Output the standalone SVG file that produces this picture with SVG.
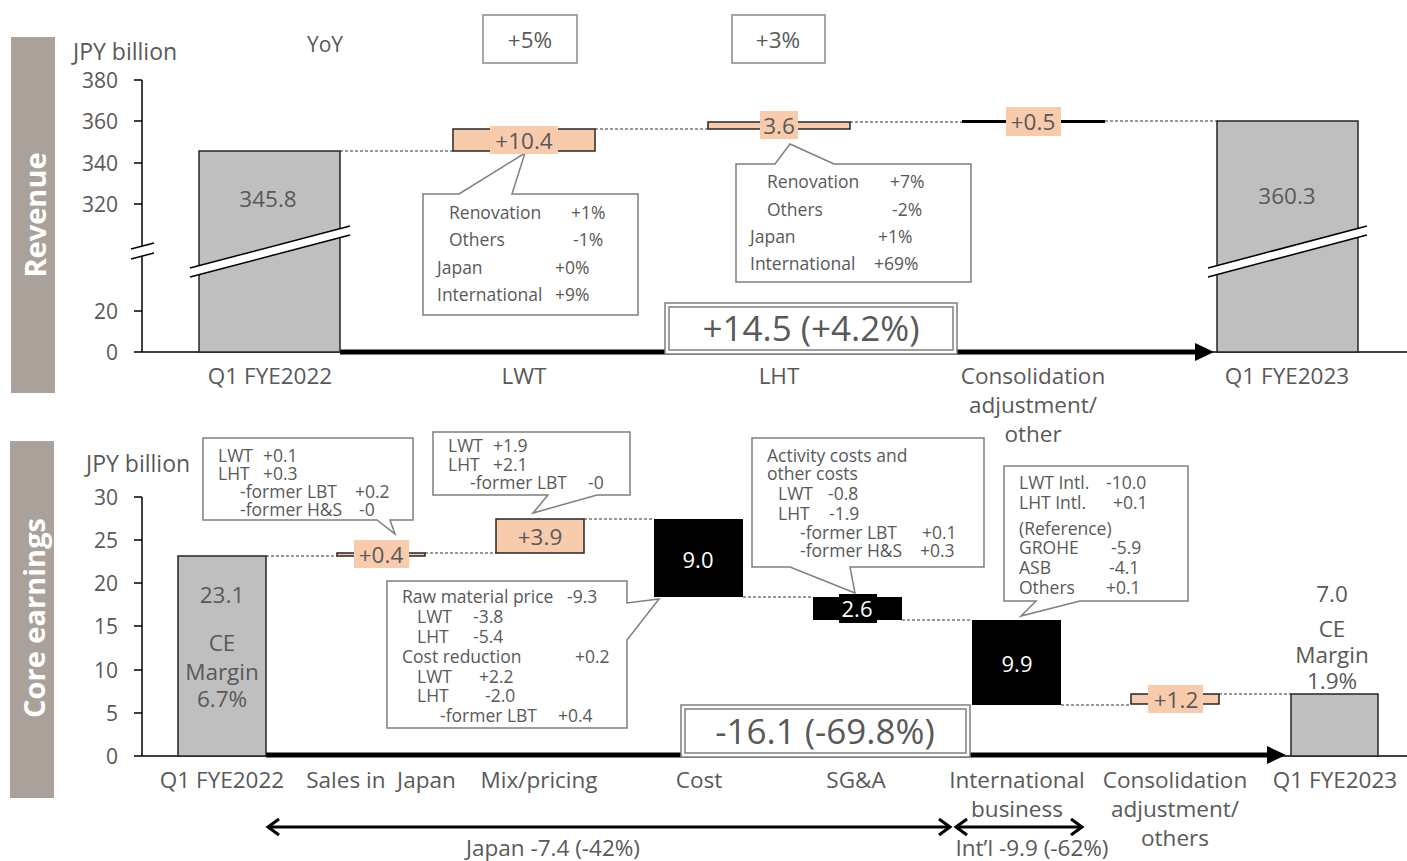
<svg xmlns="http://www.w3.org/2000/svg" width="1407" height="861" viewBox="0 0 1407 861">
<style>
text{font-family:"Open Sans","Noto Sans","Liberation Sans",sans-serif;fill:#595959;dominant-baseline:central}
.ax{font-size:21px;text-anchor:end}
.cat{font-size:22.5px;text-anchor:middle}
.val{font-size:22.5px;text-anchor:middle}
.wv{font-size:22px;text-anchor:middle;fill:#fff}
.co{font-size:17.5px}
.side{font-size:29px;font-weight:bold;fill:#fff;text-anchor:middle}
.big{font-size:35px;text-anchor:middle}
.gbar{fill:#bfbfbf;stroke:#262626;stroke-width:1.5}
.pbar{fill:#f8cbad;stroke:#262626;stroke-width:1.5}
.kbar{fill:#000}
.plab{fill:#f8cbad}
.call{fill:#fff;stroke:#7f7f7f;stroke-width:1.5}
.dash{stroke:#333;stroke-width:1;stroke-dasharray:3 2;fill:none}
.axis{stroke:#000;stroke-width:1.5;fill:none}
.dbl{fill:#fff;stroke:#7f7f7f;stroke-width:1.5}
.yoy{fill:#fff;stroke:#a6a6a6;stroke-width:2}
</style>

<!-- ===== TOP: Revenue ===== -->
<g id="revenue-band">
<rect x="11" y="37" width="44" height="356" fill="#a9a19a"/>
<text class="side" transform="translate(34,215) rotate(-90)">Revenue</text>
</g>
<g id="revenue-axis">
<line class="axis" x1="142" y1="80" x2="142" y2="246"/>
<line class="axis" x1="142" y1="256" x2="142" y2="352"/>
<line class="axis" x1="134" y1="80" x2="142" y2="80"/>
<line class="axis" x1="134" y1="121" x2="142" y2="121"/>
<line class="axis" x1="134" y1="163" x2="142" y2="163"/>
<line class="axis" x1="134" y1="204" x2="142" y2="204"/>
<line class="axis" x1="134" y1="311" x2="142" y2="311"/>
<line class="axis" x1="134" y1="352" x2="1407" y2="352"/>
<line class="axis" x1="131" y1="249" x2="154" y2="243"/>
<line class="axis" x1="131" y1="259" x2="154" y2="253"/>
<text class="ax" x="118" y="80">380</text>
<text class="ax" x="118" y="121">360</text>
<text class="ax" x="118" y="163">340</text>
<text class="ax" x="118" y="204">320</text>
<text class="ax" x="118" y="311">20</text>
<text class="ax" x="118" y="352">0</text>
<text x="73" y="51" style="font-size:23px">JPY billion</text>
<text x="325" y="44" style="font-size:21px;text-anchor:middle">YoY</text>
</g>
<g id="yoy-lwt">
<rect class="yoy" x="483" y="15" width="94" height="48"/>
<text class="val" x="530" y="39">+5%</text>
</g>
<g id="yoy-lht">
<rect class="yoy" x="732" y="15" width="93" height="48"/>
<text class="val" x="778" y="39">+3%</text>
</g>

<g id="rev-callout-lwt">
<path class="call" d="M423,194 H459 L525,153 L512,194 H638 V315 H423 Z"/>
<text class="co" x="449" y="212">Renovation</text><text class="co" x="571" y="212">+1%</text>
<text class="co" x="449" y="239">Others</text><text class="co" x="573" y="239">-1%</text>
<text class="co" x="437" y="267">Japan</text><text class="co" x="555" y="267">+0%</text>
<text class="co" x="437" y="294">International</text><text class="co" x="555" y="294">+9%</text>
</g>
<g id="rev-callout-lht">
<path class="call" d="M736,164 H775 L790,144 L834,164 H971 V282 H736 Z"/>
<text class="co" x="767" y="181">Renovation</text><text class="co" x="890" y="181">+7%</text>
<text class="co" x="767" y="209">Others</text><text class="co" x="892" y="209">-2%</text>
<text class="co" x="750" y="236">Japan</text><text class="co" x="878" y="236">+1%</text>
<text class="co" x="750" y="263">International</text><text class="co" x="874" y="263">+69%</text>
</g>

<g id="rev-connectors">
<line class="dash" x1="340" y1="151" x2="453" y2="151"/>
<line class="dash" x1="595" y1="129" x2="708" y2="129"/>
<line class="dash" x1="850" y1="122" x2="962" y2="122"/>
<line class="dash" x1="1105" y1="121" x2="1217" y2="121"/>
<line x1="340" y1="352" x2="1198" y2="352" stroke="#000" stroke-width="5"/>
<polygon points="1195,343 1214,352 1195,361" fill="#000"/>
</g>

<g id="rev-q1-2022">
<rect class="gbar" x="199" y="151" width="141" height="201"/>
<polygon points="190,268 350,226 350,235 190,277" fill="#fff"/>
<line x1="190" y1="268" x2="350" y2="226" stroke="#000" stroke-width="1.5"/>
<line x1="190" y1="277" x2="350" y2="235" stroke="#000" stroke-width="1.5"/>
<text class="val" x="268" y="198">345.8</text>
<text class="cat" x="270" y="375">Q1 FYE2022</text>
</g>
<g id="rev-lwt">
<rect class="pbar" x="453" y="129" width="142" height="22"/>
<rect class="plab" x="490" y="126" width="68" height="28"/>
<text class="val" x="524" y="140">+10.4</text>
<text class="cat" x="524" y="375">LWT</text>
</g>
<g id="rev-lht">
<rect class="pbar" x="708" y="122" width="142" height="7"/>
<rect class="plab" x="760" y="111" width="38" height="28"/>
<text class="val" x="779" y="125">3.6</text>
<text class="cat" x="779" y="375">LHT</text>
</g>
<g id="rev-consolidation">
<line x1="962" y1="121.5" x2="1105" y2="121.5" stroke="#000" stroke-width="3"/>
<rect class="plab" x="1006" y="107" width="55" height="29"/>
<text class="val" x="1033" y="121">+0.5</text>
<text class="cat" x="1033" y="375">Consolidation</text>
<text class="cat" x="1033" y="404">adjustment/</text>
<text class="cat" x="1033" y="433">other</text>
</g>
<g id="rev-q1-2023">
<rect class="gbar" x="1217" y="121" width="141" height="231"/>
<polygon points="1208,268 1367,226 1367,235 1208,277" fill="#fff"/>
<line x1="1208" y1="268" x2="1367" y2="226" stroke="#000" stroke-width="1.5"/>
<line x1="1208" y1="277" x2="1367" y2="235" stroke="#000" stroke-width="1.5"/>
<text class="val" x="1287" y="195">360.3</text>
<text class="cat" x="1287" y="375">Q1 FYE2023</text>
</g>
<g id="rev-total">
<rect class="dbl" x="665" y="303" width="292" height="51"/>
<rect class="dbl" x="669" y="307" width="284" height="43"/>
<text class="big" x="811" y="327">+14.5 (+4.2%)</text>
</g>

<!-- ===== BOTTOM: Core earnings ===== -->
<g id="ce-band">
<rect x="10" y="441" width="44" height="357" fill="#a9a19a"/>
<text class="side" transform="translate(33,618) rotate(-90)">Core earnings</text>
</g>
<g id="ce-axis">
<line class="axis" x1="142" y1="497" x2="142" y2="756"/>
<line class="axis" x1="134" y1="497" x2="142" y2="497"/>
<line class="axis" x1="134" y1="540" x2="142" y2="540"/>
<line class="axis" x1="134" y1="583" x2="142" y2="583"/>
<line class="axis" x1="134" y1="626" x2="142" y2="626"/>
<line class="axis" x1="134" y1="670" x2="142" y2="670"/>
<line class="axis" x1="134" y1="713" x2="142" y2="713"/>
<line class="axis" x1="134" y1="756" x2="1407" y2="756"/>
<text class="ax" x="118" y="497">30</text>
<text class="ax" x="118" y="540">25</text>
<text class="ax" x="118" y="583">20</text>
<text class="ax" x="118" y="626">15</text>
<text class="ax" x="118" y="670">10</text>
<text class="ax" x="118" y="713">5</text>
<text class="ax" x="118" y="756">0</text>
<text x="86" y="463" style="font-size:23px">JPY billion</text>
</g>

<g id="ce-callout-sales">
<path class="call" d="M203,438 H413 V520 H390 L395,534 L377,520 H203 Z"/>
<text class="co" x="218" y="455">LWT</text><text class="co" x="263" y="455">+0.1</text>
<text class="co" x="218" y="473">LHT</text><text class="co" x="263" y="473">+0.3</text>
<text class="co" x="240" y="491">-former LBT</text><text class="co" x="355" y="491">+0.2</text>
<text class="co" x="240" y="509">-former H&amp;S</text><text class="co" x="359" y="509">-0</text>
</g>
<g id="ce-callout-mix">
<path class="call" d="M433,432 H630 V495 H597 L533,513 L548,495 H433 Z"/>
<text class="co" x="448" y="445">LWT</text><text class="co" x="493" y="445">+1.9</text>
<text class="co" x="448" y="464">LHT</text><text class="co" x="493" y="464">+2.1</text>
<text class="co" x="470" y="482">-former LBT</text><text class="co" x="588" y="482">-0</text>
</g>
<g id="ce-callout-cost">
<path class="call" d="M387,581 H627 V603 L659,599 L627,640 V728 H387 Z"/>
<text class="co" x="402" y="596">Raw material price</text><text class="co" x="567" y="596">-9.3</text>
<text class="co" x="417" y="616">LWT</text><text class="co" x="473" y="616">-3.8</text>
<text class="co" x="417" y="636">LHT</text><text class="co" x="473" y="636">-5.4</text>
<text class="co" x="402" y="656">Cost reduction</text><text class="co" x="575" y="656">+0.2</text>
<text class="co" x="417" y="676">LWT</text><text class="co" x="479" y="676">+2.2</text>
<text class="co" x="417" y="695">LHT</text><text class="co" x="485" y="695">-2.0</text>
<text class="co" x="440" y="715">-former LBT</text><text class="co" x="558" y="715">+0.4</text>
</g>
<g id="ce-callout-sga">
<path class="call" d="M752,438 H984 V567 H850 L855,593 L790,567 H752 Z"/>
<text class="co" x="767" y="455">Activity costs and</text>
<text class="co" x="767" y="473">other costs</text>
<text class="co" x="778" y="493">LWT</text><text class="co" x="828" y="493">-0.8</text>
<text class="co" x="778" y="513">LHT</text><text class="co" x="829" y="513">-1.9</text>
<text class="co" x="800" y="532">-former LBT</text><text class="co" x="922" y="532">+0.1</text>
<text class="co" x="800" y="550">-former H&amp;S</text><text class="co" x="920" y="550">+0.3</text>
</g>
<g id="ce-callout-intl">
<path class="call" d="M1004,466 H1188 V601 H1080 L1021,616 L1036,601 H1004 Z"/>
<text class="co" x="1019" y="482">LWT Intl.</text><text class="co" x="1106" y="482">-10.0</text>
<text class="co" x="1019" y="502">LHT Intl.</text><text class="co" x="1113" y="502">+0.1</text>
<text class="co" x="1019" y="528">(Reference)</text>
<text class="co" x="1019" y="547">GROHE</text><text class="co" x="1111" y="547">-5.9</text>
<text class="co" x="1019" y="567">ASB</text><text class="co" x="1109" y="567">-4.1</text>
<text class="co" x="1019" y="587">Others</text><text class="co" x="1106" y="587">+0.1</text>
</g>

<g id="ce-connectors">
<line class="dash" x1="266" y1="556" x2="337" y2="556"/>
<line class="dash" x1="425" y1="553" x2="496" y2="553"/>
<line class="dash" x1="584" y1="519" x2="654" y2="519"/>
<line class="dash" x1="743" y1="597" x2="813" y2="597"/>
<line class="dash" x1="902" y1="620" x2="972" y2="620"/>
<line class="dash" x1="1061" y1="705" x2="1131" y2="705"/>
<line class="dash" x1="1219" y1="694" x2="1291" y2="694"/>
<line x1="266" y1="755" x2="1270" y2="755" stroke="#000" stroke-width="5"/>
<polygon points="1267,746 1286,755 1267,764" fill="#000"/>
<line x1="269" y1="827" x2="949" y2="827" stroke="#000" stroke-width="3"/>
<polyline points="279,819 268,827 279,835" fill="none" stroke="#000" stroke-width="3"/>
<polyline points="939,819 950,827 939,835" fill="none" stroke="#000" stroke-width="3"/>
<line x1="957" y1="827" x2="1081" y2="827" stroke="#000" stroke-width="3"/>
<polyline points="967,819 956,827 967,835" fill="none" stroke="#000" stroke-width="3"/>
<polyline points="1071,819 1082,827 1071,835" fill="none" stroke="#000" stroke-width="3"/>
<text class="cat" x="553" y="847">Japan -7.4 (-42%)</text>
<text class="cat" x="1032" y="847">Int’l -9.9 (-62%)</text>
</g>

<g id="ce-q1-2022">
<rect class="gbar" x="178" y="556" width="88" height="200"/>
<text class="val" x="222" y="594">23.1</text>
<text class="val" x="222" y="642">CE</text>
<text class="val" x="222" y="671">Margin</text>
<text class="val" x="222" y="698">6.7%</text>
<text class="cat" x="222" y="779">Q1 FYE2022</text>
</g>
<g id="ce-sales-japan">
<rect class="pbar" x="337" y="553" width="88" height="3"/>
<rect class="plab" x="354" y="540" width="55" height="28"/>
<text class="val" x="381" y="554">+0.4</text>
<text class="cat" x="381" y="779" xml:space="preserve">Sales in  Japan</text>
</g>
<g id="ce-mix">
<rect class="pbar" x="496" y="519" width="88" height="34"/>
<text class="val" x="540" y="536">+3.9</text>
<text class="cat" x="539" y="779">Mix/pricing</text>
</g>
<g id="ce-cost">
<rect class="kbar" x="654" y="519" width="89" height="78"/>
<text class="wv" x="698" y="559">9.0</text>
<text class="cat" x="699" y="779">Cost</text>
</g>
<g id="ce-sga">
<rect class="kbar" x="813" y="597" width="89" height="23"/>
<rect class="kbar" x="839" y="594" width="38" height="29"/>
<text class="wv" x="857" y="608">2.6</text>
<text class="cat" x="856" y="779">SG&amp;A</text>
</g>
<g id="ce-intl">
<rect class="kbar" x="972" y="620" width="89" height="85"/>
<text class="wv" x="1017" y="663">9.9</text>
<text class="cat" x="1017" y="779">International</text>
<text class="cat" x="1017" y="808">business</text>
</g>
<g id="ce-consolidation">
<rect class="pbar" x="1131" y="694" width="88" height="10"/>
<rect class="plab" x="1148" y="685" width="55" height="28"/>
<text class="val" x="1176" y="699">+1.2</text>
<text class="cat" x="1175" y="779">Consolidation</text>
<text class="cat" x="1175" y="808">adjustment/</text>
<text class="cat" x="1175" y="837">others</text>
</g>
<g id="ce-q1-2023">
<rect class="gbar" x="1291" y="694" width="87" height="62"/>
<text class="val" x="1332" y="593">7.0</text>
<text class="val" x="1332" y="628">CE</text>
<text class="val" x="1332" y="654">Margin</text>
<text class="val" x="1332" y="680">1.9%</text>
<text class="cat" x="1335" y="779">Q1 FYE2023</text>
</g>
<g id="ce-total">
<rect class="dbl" x="681" y="705" width="289" height="52"/>
<rect class="dbl" x="685" y="709" width="281" height="44"/>
<text class="big" x="825" y="730">-16.1 (-69.8%)</text>
</g>
</svg>
